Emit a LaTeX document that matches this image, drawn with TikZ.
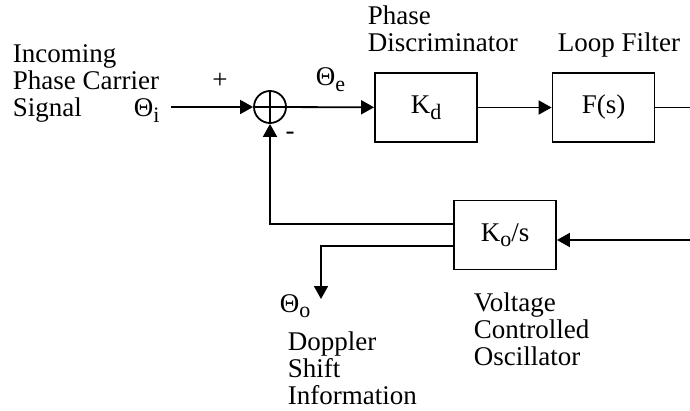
\documentclass[tikz,border=0pt]{standalone}
\usepackage{fontspec}
\setmainfont{Liberation Serif}
\usetikzlibrary{arrows.meta}
\newcommand{\lowsub}[1]{\raisebox{-0.45ex}{\fontsize{11}{11}\selectfont #1}}
\begin{document}
\begin{tikzpicture}[x=0.5pt,y=-0.5pt,line width=0.9pt,
  every node/.style={font=\fontsize{13.5}{13.5}\selectfont},
  blk/.style={draw,minimum width=51pt,minimum height=34.5pt,inner sep=0pt},
  lbl/.style={anchor=base west,inner sep=0pt,align=left},
  sig/.style={-{Triangle[length=6.5pt,width=7pt]}}]
\useasboundingbox (0,0) rectangle (690,411);
% forward path
\node[draw,circle,minimum size=16pt,inner sep=0pt] (sum) at (270,107) {};
\draw (sum.north) -- (sum.south);
\draw (sum.west) -- (sum.east);
\node[blk] (disc) at (426,107.5) {K\lowsub{d}};
\node[blk] (filt) at (603.5,107.5) {F(s)};
\node[blk] (vco) at (505,235) {K\lowsub{o}/s};
\coordinate (in) at (171,107);
\coordinate (out) at (690,107.5);
\coordinate (ctl) at (690,240);
\coordinate (dopp) at (321,299);
\draw[sig] (in) -- (sum);
\draw[sig] (sum) -- (disc);
\draw[sig] (disc) -- (filt);
\draw (filt) -- (out);
\draw[sig] (ctl) -- (ctl -| vco.east);
% feedback
\draw[sig] ([yshift=5.5pt]vco.west) -| (sum.south);
\draw[sig] ([yshift=-5.5pt]vco.west) -| (dopp);
% labels (base = last line)
\node[lbl] (inc) at (12,117) {Incoming\\Phase Carrier\\Signal};
\node[lbl] (thi) at (133,117) {Θ\lowsub{i}};
\node (plus) at (220,81) {+};
\node (minus) at (290,136) {-};
\node[lbl] (the) at (315,86) {Θ\lowsub{e}};
\node[lbl] (pd) at (367,52) {Phase\\Discriminator};
\node[lbl] (lf) at (557,52) {Loop Filter};
\node[lbl] (tho) at (279,312) {Θ\lowsub{o}};
\node[lbl] (dsi) at (287,404) {Doppler\\Shift\\Information};
\node[lbl] (vcl) at (473,365) {Voltage\\Controlled\\Oscillator};
\end{tikzpicture}
\end{document}
